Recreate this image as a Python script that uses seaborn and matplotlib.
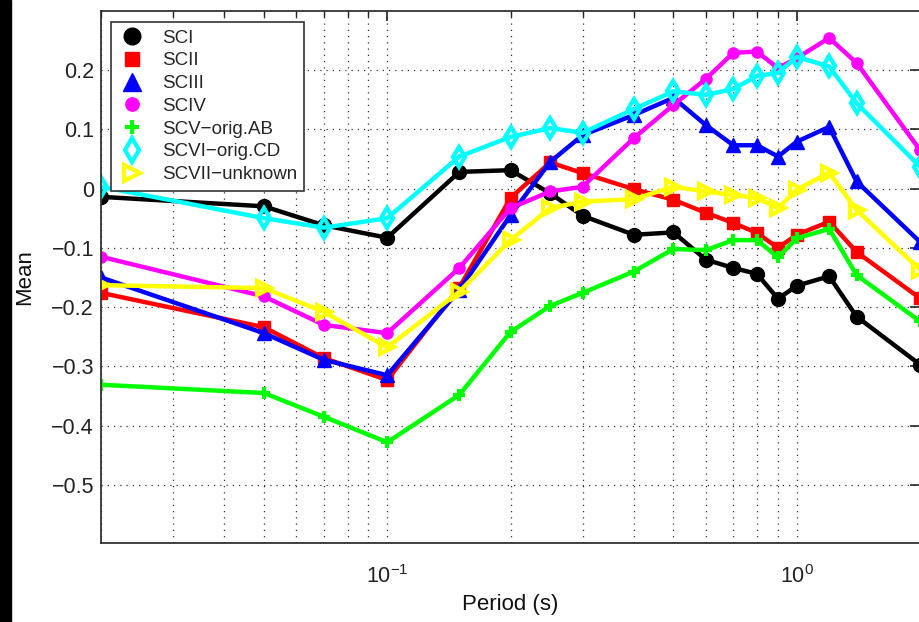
import numpy as np
import pandas as pd
import matplotlib
matplotlib.use("Agg")
import matplotlib.pyplot as plt
import matplotlib.ticker as mticker
from matplotlib.patches import Rectangle
import seaborn as sns

periods = [0.02, 0.05, 0.07, 0.1, 0.15, 0.2, 0.25, 0.3, 0.4, 0.5, 0.6, 0.7, 0.8, 0.9, 1.0, 1.2, 1.4, 2.0]

sci = [-0.014, -0.03, -0.062, -0.083, 0.028, 0.031, -0.008, -0.046, -0.078, -0.074, -0.12, -0.134, -0.144, -0.186, -0.164, -0.148, -0.216, -0.297]
scii = [-0.176, -0.234, -0.286, -0.323, -0.167, -0.016, 0.044, 0.026, -0.001, -0.019, -0.041, -0.058, -0.075, -0.1, -0.078, -0.056, -0.107, -0.185]
sciii = [-0.15, -0.244, -0.289, -0.315, -0.171, -0.045, 0.045, 0.09, 0.124, 0.153, 0.107, 0.073, 0.073, 0.054, 0.079, 0.104, 0.012, -0.09]
sciv = [-0.115, -0.182, -0.23, -0.244, -0.134, -0.033, -0.005, 0.003, 0.085, 0.141, 0.185, 0.229, 0.231, 0.203, 0.22, 0.254, 0.212, 0.065]
scv = [-0.331, -0.345, -0.385, -0.428, -0.348, -0.242, -0.198, -0.176, -0.14, -0.102, -0.104, -0.087, -0.087, -0.116, -0.084, -0.068, -0.146, -0.224]
scvi = [0.003, -0.05, -0.066, -0.05, 0.054, 0.087, 0.102, 0.094, 0.134, 0.164, 0.158, 0.168, 0.19, 0.195, 0.222, 0.206, 0.144, 0.037]
scvii = [-0.163, -0.168, -0.208, -0.268, -0.174, -0.087, -0.033, -0.022, -0.018, 0.003, -0.005, -0.011, -0.016, -0.033, -0.002, 0.027, -0.036, -0.137]

labels = ["SCI", "SCII", "SCIII", "SCIV", "SCV\u2212orig.AB", "SCVI\u2212orig.CD", "SCVII\u2212unknown"]
series = [sci, scii, sciii, sciv, scv, scvi, scvii]
colors = ["#000000", "#ff0000", "#0000ff", "#ff00ff", "#00ff00", "#00ffff", "#ffff00"]

yticks = [-0.5, -0.4, -0.3, -0.2, -0.1, 0.0, 0.1, 0.2]

sns.set_theme(style="white")
plt.rcParams['font.family'] = ['Liberation Sans', 'DejaVu Sans']
plt.rcParams['axes.unicode_minus'] = True

fig = plt.figure(figsize=(9.19, 6.22), dpi=100)
fig.patch.set_facecolor("white")
ax = fig.add_axes([101/919, (622-543)/622, 819/919, 532/622])
ax.set_facecolor("white")

styles = [
    dict(marker="o", ms=10, mfc="#000000", mec="#000000", mew=1),
    dict(marker="s", ms=8.5, mfc="#ff0000", mec="#ff0000", mew=1),
    dict(marker="^", ms=10.5, mfc="#0000ff", mec="#0000ff", mew=1),
    dict(marker="o", ms=8, mfc="#ff00ff", mec="#ff00ff", mew=1),
    dict(marker="+", ms=8, mfc="#00ff00", mec="#00ff00", mew=3),
    dict(marker="d", ms=10, mfc="none", mec="#00ffff", mew=3),
    dict(marker=">", ms=10, mfc="none", mec="#ffff00", mew=3),
]

for lab, vals, col, st in zip(labels, series, colors, styles):
    df = pd.DataFrame({"Period": periods, "Mean": vals})
    sns.lineplot(data=df, x="Period", y="Mean", ax=ax, color=col, lw=3.2,
                 sort=False, estimator=None, label=lab, **st)

ax.set_xscale("log")
ax.set_xlim(0.02, 2.0)
ax.set_ylim(-0.598, 0.2995)
ax.set_yticks(yticks)
ax.yaxis.set_major_formatter(mticker.FuncFormatter(lambda v, p: "0" if abs(v) < 1e-9 else ("%.1f" % v).replace("-", "\u2212")))
ax.xaxis.set_major_locator(mticker.LogLocator(base=10))
ax.xaxis.set_minor_locator(mticker.LogLocator(base=10, subs=np.arange(2, 10)))
ax.xaxis.set_minor_formatter(mticker.NullFormatter())

ax.grid(True, which="major", axis="both", linestyle=(0, (1, 4)), color="#333333", lw=0.9)
ax.grid(True, which="minor", axis="x", linestyle=(0, (1, 4)), color="#333333", lw=0.9)

ax.tick_params(axis="both", which="both", direction="in", top=True, right=True, labelsize=15.5, colors="#222222")
ax.tick_params(axis="both", which="major", length=7, width=1.2)
ax.tick_params(axis="x", which="minor", length=4, width=1)
ax.tick_params(axis="x", which="major", pad=16)
ax.tick_params(axis="y", which="major", pad=5)
for s in ax.spines.values():
    s.set_color("#333333")
    s.set_linewidth(1.3)

ax.set_xlabel("Period (s)", fontsize=16, color="#111111", labelpad=4)
ax.set_ylabel("Mean", fontsize=16, color="#111111", labelpad=12)

leg = ax.legend(loc="upper left", bbox_to_anchor=(10/819, 1 - 11/532), borderaxespad=0,
                fontsize=13.5, frameon=True, fancybox=False, edgecolor="#333333", framealpha=1,
                handlelength=1.4, handletextpad=0.9, labelspacing=0.3, borderpad=0.4)
leg.get_frame().set_linewidth(1.2)
for line in leg.get_lines():
    line.set_linestyle("none")
    line.set_markersize(line.get_markersize() * 1.2)

fig.patches.append(Rectangle((0, 0), 11/919, 1, transform=fig.transFigure, color="black", zorder=10))

fig.savefig("out.png", dpi=100)
